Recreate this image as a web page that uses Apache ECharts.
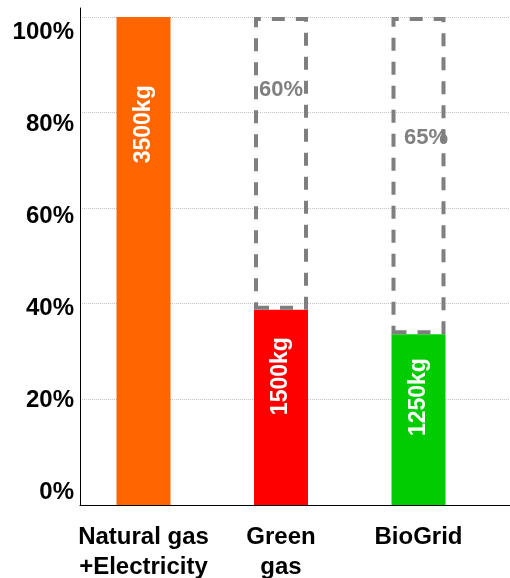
<!DOCTYPE html>
<html>
<head>
<meta charset="utf-8">
<script src="https://cdn.jsdelivr.net/npm/echarts@6.0.0/dist/echarts.min.js"></script>
<style>
  html, body { margin: 0; padding: 0; background: #fff; }
  #chart { width: 510px; height: 578px; }
</style>
</head>
<body>
<div id="chart"></div>
<script>
// Energy options compared as a share of the natural-gas baseline
const categories = ['Natural gas\n+Electricity', 'Green\ngas', 'BioGrid'];
const sharePercent = [100, 40, 35];      // remaining share (solid bars)
const savingPercent = [null, 60, 65];    // saving vs. baseline (dashed boxes)
const massKg = [3500, 1500, 1250];       // printed inside the solid bars
const yTicks = [0, 20, 40, 60, 80, 100];

const barColors = ['#ff6600', '#ff0000', '#00cc00'];
const savingLabelPlacement = [null, ['50%', '25%'], ['64%', '38%']];
const FONT = "'Liberation Sans', Arial, Helvetica, sans-serif";

const yMin = yTicks[0];
const yMax = yTicks[yTicks.length - 1];
const yStep = yTicks[1] - yTicks[0];

const hiddenAxis = {
  show: true,
  axisLine: { show: false },
  axisTick: { show: false },
  axisLabel: { show: false },
  splitLine: { show: false }
};

const chart = echarts.init(document.getElementById('chart'), null, { renderer: 'canvas' });

chart.setOption({
  animation: false,
  backgroundColor: '#ffffff',
  grid: [
    // frame: the two black axis lines
    { left: 80, right: 0, top: 8, bottom: 73, outerBoundsMode: 'none' },
    // dotted gridlines
    { left: 80, right: 0, top: 17, bottom: 83.5, outerBoundsMode: 'none' },
    // percentage tick labels
    { left: 80, right: 0, top: 32, bottom: 86, outerBoundsMode: 'none' },
    // bars
    { left: 74.75, right: 22.75, top: 17, bottom: 73, outerBoundsMode: 'none' }
  ],
  xAxis: [
    Object.assign({}, hiddenAxis, {
      gridIndex: 0, type: 'value', min: 0, max: 1,
      axisLine: { show: true, onZero: false, lineStyle: { color: '#000', width: 1 } }
    }),
    Object.assign({}, hiddenAxis, { gridIndex: 1, type: 'value', min: 0, max: 1 }),
    Object.assign({}, hiddenAxis, { gridIndex: 2, type: 'value', min: 0, max: 1 }),
    {
      gridIndex: 3,
      type: 'category',
      data: categories,
      axisLine: { show: false },
      axisTick: { show: false },
      splitLine: { show: false },
      axisLabel: {
        interval: 0,
        margin: 17,
        color: '#000',
        fontFamily: FONT,
        fontSize: 24,
        fontWeight: 'bold',
        lineHeight: 30,
        verticalAlign: 'top'
      }
    }
  ],
  yAxis: [
    Object.assign({}, hiddenAxis, {
      gridIndex: 0, type: 'value', min: 0, max: 1,
      axisLine: { show: true, onZero: false, lineStyle: { color: '#000', width: 1 } }
    }),
    Object.assign({}, hiddenAxis, {
      gridIndex: 1, type: 'value', min: yMin, max: yMax, interval: yStep,
      splitLine: {
        show: true,
        showMinLine: false,
        lineStyle: { type: 'dotted', color: '#c4c4c4', width: 1 }
      }
    }),
    Object.assign({}, hiddenAxis, {
      gridIndex: 2, type: 'value', min: yMin, max: yMax, interval: yStep,
      axisLabel: {
        show: true,
        margin: 6,
        color: '#000',
        fontFamily: FONT,
        fontSize: 24,
        fontWeight: 'bold',
        formatter: v => v + '%'
      }
    }),
    Object.assign({}, hiddenAxis, { gridIndex: 3, type: 'value', min: yMin, max: yMax })
  ],
  series: [
    {
      name: 'Share',
      type: 'bar',
      xAxisIndex: 3,
      yAxisIndex: 3,
      stack: 'share',
      barWidth: 54,
      data: sharePercent.map((v, i) => ({ value: v, itemStyle: { color: barColors[i] } })),
      label: {
        show: true,
        position: ['50%', '14%'],
        rotate: 90,
        align: 'right',
        verticalAlign: 'middle',
        color: '#ffffff',
        fontFamily: FONT,
        fontSize: 23,
        fontWeight: 'bold',
        formatter: p => massKg[p.dataIndex] + 'kg'
      }
    },
    {
      name: 'Saving',
      type: 'bar',
      xAxisIndex: 3,
      yAxisIndex: 3,
      stack: 'share',
      barWidth: 54,
      data: savingPercent.map((v, i) => v == null ? '-' : {
        value: v,
        label: { position: savingLabelPlacement[i] }
      }),
      itemStyle: {
        color: 'rgba(0,0,0,0)',
        borderColor: '#7f7f7f',
        borderWidth: 4,
        borderType: [13, 11]
      },
      label: {
        show: true,
        align: 'center',
        verticalAlign: 'middle',
        color: '#808080',
        fontFamily: FONT,
        fontSize: 22,
        fontWeight: 'bold',
        formatter: p => p.value + '%'
      }
    }
  ]
});
</script>
</body>
</html>
